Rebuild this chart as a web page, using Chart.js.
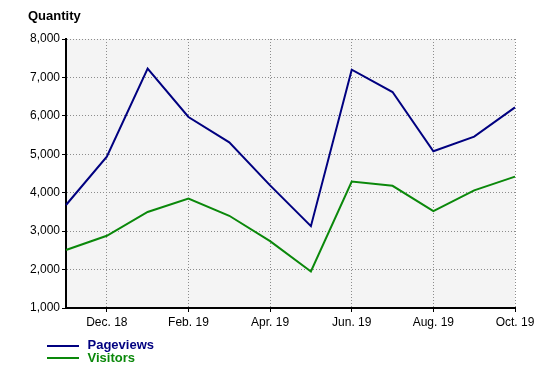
<!DOCTYPE html>
<html>
<head>
<meta charset="utf-8">
<script src="https://cdn.jsdelivr.net/npm/chart.js@4/dist/chart.umd.min.js"></script>
<style>
  html, body { margin: 0; padding: 0; background: #fff; }
  #wrap { width: 556px; height: 373px; position: relative; }
</style>
</head>
<body>
<div id="wrap"><canvas id="trafficChart" width="556" height="373"></canvas></div>
<script>
// Monthly traffic, Nov 2018 - Oct 2019
const months = ['Nov. 18', 'Dec. 18', 'Jan. 19', 'Feb. 19', 'Mar. 19', 'Apr. 19',
                'May. 19', 'Jun. 19', 'Jul. 19', 'Aug. 19', 'Sep. 19', 'Oct. 19'];
const pageviews = [3680, 4940, 7230, 5970, 5310, 4190, 3130, 7200, 6620, 5080, 5460, 6220];
const visitors = [2510, 2880, 3500, 3850, 3400, 2740, 1950, 4290, 4180, 3520, 4060, 4420];
const yTicks = [1000, 2000, 3000, 4000, 5000, 6000, 7000, 8000];

const FONT = 'Arial, "Liberation Sans", Helvetica, sans-serif';

// grey plot background + title + two-row legend drawn on the canvas
const decorations = {
  id: 'decorations',
  beforeDraw(chart) {
    const { ctx, chartArea: a } = chart;
    ctx.save();
    ctx.fillStyle = '#f4f4f4';
    ctx.fillRect(a.left, a.top, a.right - a.left, a.bottom - a.top);
    ctx.restore();
  },
  afterDraw(chart) {
    const ctx = chart.ctx;
    ctx.save();
    ctx.font = 'bold 13px ' + FONT;
    ctx.fillStyle = '#000';
    ctx.textBaseline = 'middle';
    ctx.fillText('Quantity', 28, 16);

    chart.data.datasets.forEach((ds, i) => {
      const y = 346 + i * 12;
      ctx.strokeStyle = ds.borderColor;
      ctx.lineWidth = 2;
      ctx.beginPath();
      ctx.moveTo(47, y);
      ctx.lineTo(79, y);
      ctx.stroke();
      ctx.fillStyle = ds.borderColor;
      ctx.fillText(ds.label, 87.5, 345.5 + i * 12.7);
    });
    ctx.restore();
  }
};

const ctx = document.getElementById('trafficChart').getContext('2d');
new Chart(ctx, {
  type: 'line',
  data: {
    labels: months,
    datasets: [
      { label: 'Pageviews', data: pageviews, borderColor: '#000080', borderWidth: 2, pointRadius: 0, tension: 0 },
      { label: 'Visitors', data: visitors, borderColor: '#0a880a', borderWidth: 2, pointRadius: 0, tension: 0 },
    ],
  },
  options: {
    responsive: false,
    animation: false,
    layout: { padding: { top: 39, right: 41, bottom: 35, left: 0 } },
    plugins: { legend: { display: false }, tooltip: { enabled: false } },
    scales: {
      x: {
        offset: false,
        afterFit: (s) => { s.height = 30; },
        grid: {
          color: (c) => (c.index % 2 === 1 ? '#8c8c8c' : 'rgba(0,0,0,0)'),
          tickColor: (c) => (c.index % 2 === 1 ? '#000' : 'rgba(0,0,0,0)'),
          tickLength: 4,
          lineWidth: 1,
          tickWidth: 1,
        },
        border: { display: true, color: '#000', width: 2, dash: [1, 2] },
        ticks: {
          autoSkip: false,
          maxRotation: 0,
          padding: 3,
          color: '#000',
          font: { family: FONT, size: 12 },
          callback: (v, i) => (i % 2 === 1 ? months[i] : ''),
        },
      },
      y: {
        min: yTicks[0],
        max: yTicks[yTicks.length - 1],
        afterFit: (s) => { s.width = 66; },
        afterBuildTicks: (s) => { s.ticks = yTicks.map((v) => ({ value: v })); },
        grid: { color: '#8c8c8c', tickColor: '#000', tickLength: 4, lineWidth: 1 },
        border: { display: true, color: '#000', width: 2, dash: [1, 2] },
        ticks: {
          padding: 2,
          color: '#000',
          font: { family: FONT, size: 12 },
          callback: (v) => v.toLocaleString('en-US'),
        },
      },
    },
  },
  plugins: [decorations],
});
</script>
</body>
</html>
